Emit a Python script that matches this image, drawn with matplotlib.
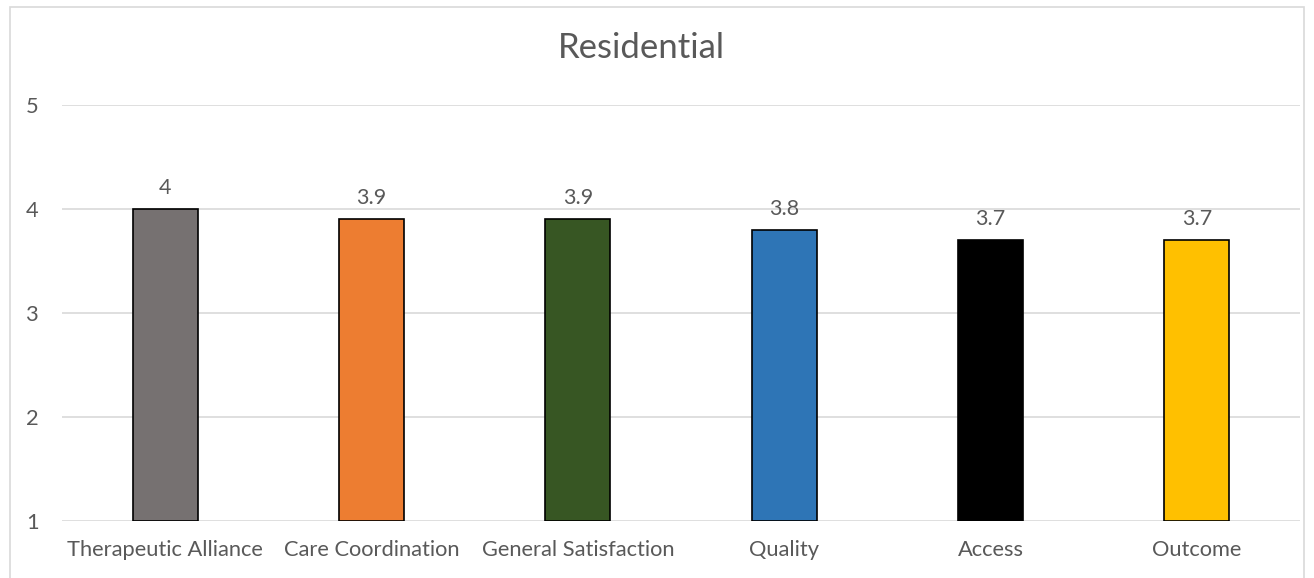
import matplotlib
matplotlib.use('Agg')
import matplotlib.pyplot as plt
from matplotlib.patches import Rectangle

categories = ['Therapeutic Alliance', 'Care Coordination', 'General Satisfaction',
              'Quality', 'Access', 'Outcome']
scores = [4.0, 3.9, 3.9, 3.8, 3.7, 3.7]
score_labels = ['4', '3.9', '3.9', '3.8', '3.7', '3.7']
bar_colors = ['#767171', '#ED7D31', '#375623', '#2E75B6', '#000000', '#FFC000']
y_ticks = [1, 2, 3, 4, 5]

text_color = '#595959'
grid_color = '#d9d9d9'

plt.rcParams['font.family'] = ['Lato', 'DejaVu Sans']

fig = plt.figure(figsize=(13.14, 5.78), dpi=100)
W, H = 1314, 578

# chart frame
fig.patches.append(Rectangle((10 / W, -0.02), 1294 / W, 1 - 7 / H + 0.02,
                             transform=fig.transFigure, fill=False,
                             edgecolor=grid_color, linewidth=1.2))

ax = fig.add_axes([62 / W, 1 - 521 / H, 1238 / W, 416 / H])
x = range(len(categories))
bars = ax.bar(x, [s - 1 for s in scores], bottom=1, width=0.315,
              color=bar_colors, edgecolor='black', linewidth=1.2, zorder=3)

for i, (s, lab) in enumerate(zip(scores, score_labels)):
    ax.annotate(lab, (i, s), xytext=(0, 8), textcoords='offset points',
                ha='center', va='bottom', fontsize=15.5, color=text_color)

ax.set_ylim(1, 5)
ax.set_xlim(-0.5, len(categories) - 0.5)
ax.set_yticks(y_ticks)
ax.set_yticklabels([str(t) for t in y_ticks])
ax.set_xticks(list(x))
ax.set_xticklabels(categories)
ax.tick_params(axis='both', length=0, labelsize=15.75, labelcolor=text_color)
ax.tick_params(axis='y', pad=17)
ax.tick_params(axis='x', pad=14)
ax.grid(axis='y', color=grid_color, linewidth=1.2, zorder=0)
for sp in ax.spines.values():
    sp.set_visible(False)

fig.text(641 / W, 1 - 48 / H, 'Residential', ha='center', va='center',
         fontsize=25, color=text_color)

fig.savefig('out.png', dpi=100)
